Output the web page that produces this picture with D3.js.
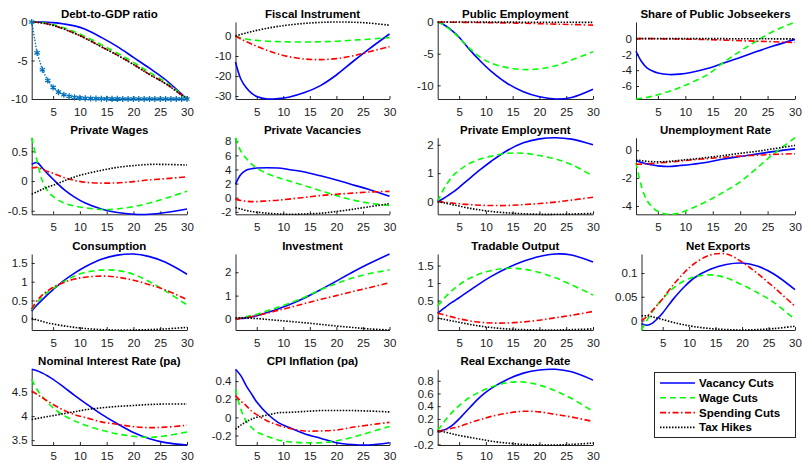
<!DOCTYPE html>
<html>
<head>
<meta charset="utf-8">
<script src="https://cdn.jsdelivr.net/npm/d3@7"></script>
<style>
  body { margin: 0; background: #fff; }
  svg text { font-family: "Liberation Sans", Arial, sans-serif; }
</style>
</head>
<body>
<div id="chart"></div>
<script>
// periods shared by every response
const periods = [1, 2, 3, 4, 5, 7, 9, 11, 14, 17, 20, 23, 26, 30];
const xTicks = [5, 10, 15, 20, 25, 30];
const seriesNames = ["Vacancy Cuts", "Wage Cuts", "Spending Cuts", "Tax Hikes"];

const titles = [
  "Debt-to-GDP ratio", "Fiscal Instrument", "Public Employment", "Share of Public Jobseekers",
  "Private Wages", "Private Vacancies", "Private Employment", "Unemployment Rate",
  "Consumption", "Investment", "Tradable Output", "Net Exports",
  "Nominal Interest Rate (pa)", "CPI Inflation (pa)", "Real Exchange Rate"
];

// each panel: [vacancy cuts, wage cuts, spending cuts, tax hikes]
const debtRatio = [
  [0, 0, -0.01, -0.03, -0.08, -0.25, -0.5, -0.95, -2.0, -3.2, -4.6, -6.0, -7.5, -10],
  [0, -0.03, -0.09, -0.2, -0.34, -0.76, -1.28, -1.9, -2.95, -4.05, -5.25, -6.55, -7.8, -10],
  [0, -0.04, -0.12, -0.25, -0.42, -0.9, -1.45, -2.1, -3.2, -4.3, -5.5, -6.8, -8.0, -10],
  [0, -0.05, -0.13, -0.26, -0.44, -0.92, -1.48, -2.12, -3.22, -4.32, -5.52, -6.82, -8.02, -10]
];
// debt target path, one value per period 1..30
const debtTarget = [0, -4.0, -6.2, -7.6, -8.5, -9.1, -9.45, -9.65, -9.78, -9.86,
  -9.91, -9.94, -9.96, -9.97, -9.98, -9.99, -9.99, -10, -10, -10,
  -10, -10, -10, -10, -10, -10, -10, -10, -10, -10];

const fiscalInstrument = [
  [-13, -21.5, -25.8, -28.6, -30.2, -31.5, -31.3, -30.6, -28.3, -24.8, -19.5, -13.0, -6.8, 1.0],
  [0, -1, -1.5, -1.9, -2.2, -2.6, -2.8, -2.95, -3.0, -2.9, -2.6, -2.1, -1.6, -0.8],
  [0, -1.5, -2.8, -4, -5.1, -7.2, -9, -10.3, -11.5, -11.8, -11.3, -10.0, -8.0, -5.3],
  [0, 0.8, 1.5, 2.2, 2.8, 3.9, 4.8, 5.5, 6.3, 6.8, 7.0, 6.9, 6.5, 5.4]
];
const publicEmployment = [
  [0, -0.35, -0.9, -1.6, -2.4, -4.4, -6.2, -7.8, -9.7, -11.0, -11.8, -12.15, -11.9, -10.6],
  [0, -0.4, -1.0, -1.7, -2.5, -4.2, -5.6, -6.5, -7.2, -7.5, -7.4, -6.9, -6.0, -4.7],
  [0, -0.02, -0.03, -0.04, -0.05, -0.07, -0.09, -0.11, -0.15, -0.2, -0.26, -0.33, -0.4, -0.5],
  [0, 0, 0, 0, 0, -0.01, -0.01, -0.02, -0.02, -0.03, -0.03, -0.04, -0.05, -0.06]
];
const publicJobseekers = [
  [-1.6, -2.9, -3.7, -4.1, -4.35, -4.55, -4.5, -4.3, -3.8, -3.1, -2.4, -1.65, -0.95, -0.1],
  [-7.65, -7.55, -7.45, -7.3, -7.1, -6.7, -6.2, -5.6, -4.6, -3.0, -1.6, -0.3, 0.9, 2.1],
  [0, 0, 0, -0.01, -0.02, -0.04, -0.06, -0.08, -0.13, -0.19, -0.26, -0.33, -0.4, -0.5],
  [0, 0, 0, 0, 0, 0, 0, 0, -0.01, -0.01, -0.02, -0.02, -0.03, -0.04]
];
const privateWages = [
  [0.28, 0.31, 0.22, 0.12, 0.03, -0.14, -0.27, -0.37, -0.47, -0.53, -0.56, -0.56, -0.53, -0.47],
  [0.73, 0.34, 0.0, -0.17, -0.26, -0.37, -0.42, -0.45, -0.48, -0.47, -0.43, -0.37, -0.29, -0.17],
  [0.22, 0.23, 0.2, 0.16, 0.13, 0.06, 0.01, -0.02, -0.035, -0.03, -0.01, 0.02, 0.04, 0.07],
  [-0.22, -0.18, -0.14, -0.1, -0.07, 0.0, 0.07, 0.12, 0.18, 0.23, 0.26, 0.28, 0.28, 0.27]
];
const privateVacancies = [
  [1.9, 3.3, 3.9, 4.1, 4.2, 4.25, 4.2, 4.0, 3.65, 3.1, 2.5, 1.85, 1.2, 0.2],
  [8.5, 6.6, 5.6, 4.8, 4.2, 3.4, 2.85, 2.4, 1.7, 1.0, 0.3, -0.3, -0.75, -1.1],
  [-0.2, -0.4, -0.5, -0.55, -0.55, -0.45, -0.35, -0.2, 0.05, 0.3, 0.5, 0.65, 0.8, 0.9],
  [-1.4, -1.6, -1.8, -1.95, -2.05, -2.2, -2.3, -2.35, -2.3, -2.2, -1.95, -1.65, -1.3, -0.85]
];
const privateEmployment = [
  [0, 0.1, 0.22, 0.35, 0.5, 0.82, 1.13, 1.42, 1.8, 2.07, 2.21, 2.25, 2.2, 2.0],
  [0, 0.4, 0.7, 0.94, 1.1, 1.35, 1.5, 1.6, 1.7, 1.7, 1.62, 1.5, 1.3, 0.9],
  [0, -0.02, -0.04, -0.06, -0.08, -0.11, -0.13, -0.14, -0.14, -0.11, -0.07, -0.02, 0.05, 0.15],
  [0, -0.04, -0.08, -0.12, -0.16, -0.24, -0.3, -0.35, -0.4, -0.43, -0.45, -0.45, -0.44, -0.42]
];
const unemploymentRate = [
  [-0.73, -0.88, -0.98, -1.06, -1.12, -1.17, -1.1, -1.02, -0.86, -0.63, -0.45, -0.28, -0.1, 0.1],
  [-0.9, -2.6, -3.6, -4.1, -4.4, -4.6, -4.5, -4.2, -3.65, -3.0, -2.27, -1.3, -0.3, 0.9],
  [-1.0, -1.0, -0.98, -0.95, -0.92, -0.85, -0.78, -0.7, -0.6, -0.5, -0.42, -0.36, -0.3, -0.25],
  [-0.7, -0.75, -0.8, -0.82, -0.83, -0.8, -0.72, -0.65, -0.52, -0.38, -0.22, -0.08, 0.1, 0.35]
];
const consumption = [
  [0.22, 0.38, 0.52, 0.66, 0.79, 1.03, 1.23, 1.4, 1.6, 1.71, 1.74, 1.67, 1.52, 1.2],
  [0.25, 0.45, 0.6, 0.72, 0.82, 1.0, 1.15, 1.25, 1.31, 1.3, 1.2, 1.0, 0.75, 0.38],
  [0.27, 0.5, 0.65, 0.76, 0.85, 0.98, 1.07, 1.12, 1.15, 1.12, 1.04, 0.92, 0.78, 0.52],
  [0.02, -0.02, -0.06, -0.1, -0.13, -0.18, -0.22, -0.25, -0.28, -0.29, -0.29, -0.28, -0.26, -0.22]
];
const investment = [
  [0, 0.02, 0.05, 0.09, 0.14, 0.28, 0.43, 0.6, 0.9, 1.25, 1.62, 2.0, 2.35, 2.78],
  [0, 0.05, 0.1, 0.15, 0.2, 0.35, 0.5, 0.66, 0.93, 1.25, 1.52, 1.75, 1.93, 2.1],
  [0, 0.03, 0.06, 0.1, 0.14, 0.25, 0.37, 0.48, 0.66, 0.84, 1.0, 1.17, 1.33, 1.55],
  [0.05, 0.05, 0.04, 0.03, 0.02, -0.02, -0.06, -0.1, -0.16, -0.23, -0.3, -0.36, -0.42, -0.47]
];
const tradableOutput = [
  [0.14, 0.26, 0.38, 0.48, 0.58, 0.79, 1.0, 1.19, 1.43, 1.62, 1.76, 1.83, 1.8, 1.6],
  [0.35, 0.53, 0.69, 0.83, 0.95, 1.14, 1.27, 1.36, 1.42, 1.4, 1.3, 1.15, 0.95, 0.66],
  [0.14, 0.1, 0.06, 0.02, -0.02, -0.08, -0.12, -0.14, -0.14, -0.11, -0.06, 0.01, 0.08, 0.19],
  [0.0, -0.03, -0.06, -0.09, -0.12, -0.18, -0.23, -0.27, -0.31, -0.33, -0.34, -0.34, -0.33, -0.31]
];
const netExports = [
  [-0.007, -0.01, -0.006, 0.004, 0.016, 0.045, 0.07, 0.09, 0.108, 0.118, 0.121, 0.114, 0.098, 0.065],
  [-0.02, 0.0, 0.018, 0.033, 0.046, 0.068, 0.083, 0.092, 0.096, 0.09, 0.075, 0.058, 0.038, 0.002],
  [0.0, 0.008, 0.02, 0.033, 0.046, 0.075, 0.1, 0.12, 0.138, 0.14, 0.123, 0.098, 0.07, 0.03],
  [0.01, 0.01, 0.008, 0.005, 0.002, -0.004, -0.009, -0.013, -0.017, -0.019, -0.02, -0.019, -0.017, -0.012]
];
const nominalRate = [
  [4.97, 4.94, 4.89, 4.83, 4.76, 4.6, 4.43, 4.27, 4.04, 3.84, 3.66, 3.53, 3.45, 3.4],
  [4.76, 4.55, 4.4, 4.28, 4.17, 4.01, 3.9, 3.81, 3.71, 3.63, 3.58, 3.56, 3.59, 3.67],
  [4.52, 4.45, 4.38, 4.31, 4.24, 4.12, 4.03, 3.97, 3.88, 3.83, 3.78, 3.76, 3.77, 3.81],
  [3.93, 3.95, 3.97, 3.99, 4.01, 4.05, 4.09, 4.13, 4.17, 4.2, 4.22, 4.24, 4.25, 4.25]
];
const cpiInflation = [
  [0.53, 0.46, 0.35, 0.26, 0.17, 0.04, -0.055, -0.11, -0.18, -0.23, -0.28, -0.3, -0.305, -0.28],
  [0.31, 0.09, -0.04, -0.11, -0.16, -0.21, -0.25, -0.27, -0.28, -0.28, -0.26, -0.22, -0.17, -0.1],
  [0.24, 0.18, 0.13, 0.07, 0.03, -0.04, -0.085, -0.12, -0.15, -0.15, -0.14, -0.11, -0.085, -0.055],
  [-0.13, -0.085, -0.05, -0.02, 0.0, 0.025, 0.05, 0.055, 0.065, 0.075, 0.075, 0.075, 0.07, 0.06]
];
const realExchangeRate = [
  [0, 0.02, 0.06, 0.12, 0.2, 0.38, 0.55, 0.68, 0.82, 0.92, 0.97, 0.98, 0.94, 0.81],
  [0.02, 0.13, 0.24, 0.33, 0.41, 0.54, 0.63, 0.7, 0.77, 0.78, 0.73, 0.64, 0.52, 0.32],
  [0, 0.02, 0.04, 0.06, 0.08, 0.14, 0.19, 0.24, 0.29, 0.32, 0.31, 0.27, 0.23, 0.16],
  [0.01, 0.0, -0.02, -0.04, -0.06, -0.09, -0.12, -0.15, -0.18, -0.2, -0.21, -0.21, -0.2, -0.18]
];

const yTicks = [
  [-10, -5, 0], [-30, -20, -10, 0], [-10, -5, 0], [-6, -4, -2, 0],
  [-0.5, 0, 0.5], [-2, 0, 2, 4, 6, 8], [0, 1, 2], [-4, -2, 0],
  [0, 0.5, 1, 1.5], [0, 1, 2], [0, 0.5, 1, 1.5], [0, 0.05, 0.1],
  [3.5, 4, 4.5], [-0.2, 0, 0.2, 0.4], [-0.2, 0, 0.2, 0.4, 0.6, 0.8]
];

const panelData = [
  debtRatio, fiscalInstrument, publicEmployment, publicJobseekers,
  privateWages, privateVacancies, privateEmployment, unemploymentRate,
  consumption, investment, tradableOutput, netExports,
  nominalRate, cpiInflation, realExchangeRate
];

// line styles, same order as seriesNames
const lineStyles = [
  { color: "#0000ff", dash: null },
  { color: "#00ff00", dash: "6,4" },
  { color: "#ff0000", dash: "6,2.5,1.5,2.5" },
  { color: "#000000", dash: "1.5,1.5" }
];
const axisColor = "#262626";

// subplot grid (inner axes boxes)
const colLeft = [31.7, 235.5, 437.7, 636];
const colRight = [187, 389.5, 593, 795];
const rowTop = [22, 137.7, 254, 369.3];
const rowBottom = [99, 214.3, 330, 445];
const xLabelPad = [8.5, 8.5, 8.5, 7];   // last row sits close to the page edge

const svg = d3.select("#chart").append("svg")
  .attr("width", 802)
  .attr("height", 463);

panelData.forEach((series, i) => {
  const r = Math.floor(i / 4), c = i % 4;
  const left = i === 11 ? 641.5 : colLeft[c];   // net exports has wider labels

  const x = d3.scaleLinear().domain([1, 30]).range([left, colRight[c]]);
  let all = series.flat();
  if (i === 0) all = all.concat(debtTarget);
  const y = d3.scaleLinear().domain(d3.extent(all)).range([rowBottom[r], rowTop[r]]);

  const g = svg.append("g");

  // x axis
  const xa = g.append("g")
    .attr("transform", `translate(0,${rowBottom[r]})`)
    .call(d3.axisBottom(x).tickValues(xTicks).tickSizeInner(-3).tickSizeOuter(0).tickPadding(xLabelPad[r]));
  // y axis
  const ya = g.append("g")
    .attr("transform", `translate(${left},0)`)
    .call(d3.axisLeft(y).tickValues(yTicks[i]).tickFormat(String)
      .tickSizeInner(-3).tickSizeOuter(0).tickPadding(4));

  [xa, ya].forEach(a => {
    a.attr("font-family", null).attr("font-size", 11.5);
    a.select(".domain").attr("stroke", axisColor);
    a.selectAll(".tick line").attr("stroke", axisColor);
    a.selectAll(".tick text").attr("fill", "#1a1a1a");
  });

  const line = d3.line()
    .x((d, k) => x(periods[k]))
    .y(d => y(d))
    .curve(d3.curveCatmullRom.alpha(0.5));

  series.forEach((vals, s) => {
    g.append("path")
      .datum(vals)
      .attr("fill", "none")
      .attr("stroke", lineStyles[s].color)
      .attr("stroke-width", 1.6)
      .attr("stroke-dasharray", lineStyles[s].dash)
      .attr("d", line);
  });

  // debt target path with star markers
  if (i === 0) {
    const tx = (d, k) => x(k + 1);
    g.append("path")
      .datum(debtTarget)
      .attr("fill", "none")
      .attr("stroke", "#0072BD")
      .attr("stroke-width", 1.4)
      .attr("stroke-dasharray", "1.5,1.5")
      .attr("d", d3.line().x(tx).y(d => y(d)));
    g.selectAll(".star")
      .data(debtTarget)
      .join("path")
      .attr("transform", (d, k) => `translate(${tx(d, k)},${y(d)})`)
      .attr("d", d3.symbol(d3.symbolAsterisk, 26))
      .attr("fill", "none")
      .attr("stroke", "#0072BD")
      .attr("stroke-width", 1.3);
  }

  // title
  svg.append("text")
    .attr("x", (left + colRight[c]) / 2)
    .attr("y", rowTop[r] - 4)
    .attr("text-anchor", "middle")
    .attr("font-size", 11.5)
    .attr("font-weight", "bold")
    .attr("fill", "#000")
    .text(titles[i]);
});

// legend
const lg = svg.append("g").attr("transform", "translate(654.5,372.5)");
lg.append("rect")
  .attr("width", 141)
  .attr("height", 65)
  .attr("fill", "#fff")
  .attr("stroke", axisColor)
  .attr("stroke-width", 1);
seriesNames.forEach((name, s) => {
  const yy = 10.5 + s * 14.8;
  lg.append("line")
    .attr("x1", 5.5).attr("x2", 40.5)
    .attr("y1", yy).attr("y2", yy)
    .attr("stroke", lineStyles[s].color)
    .attr("stroke-width", 1.6)
    .attr("stroke-dasharray", lineStyles[s].dash);
  lg.append("text")
    .attr("x", 44.5)
    .attr("y", yy)
    .attr("dy", "0.35em")
    .attr("font-size", 11.5)
    .attr("font-weight", "bold")
    .attr("fill", "#000")
    .text(name);
});
</script>
</body>
</html>
